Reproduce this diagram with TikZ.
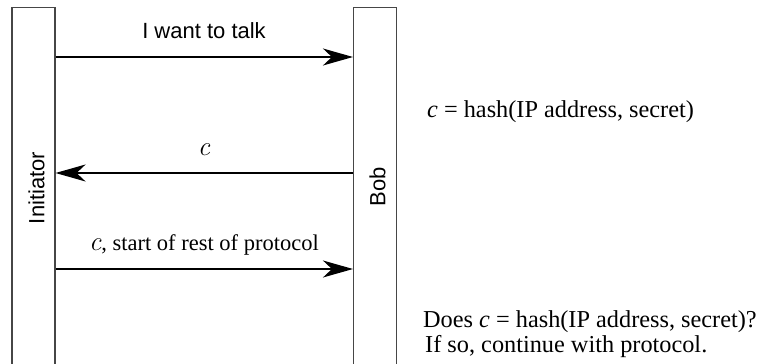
\documentclass[tikz,border=0pt]{standalone}
\usepackage{fontspec}
\setmainfont{Liberation Serif}
\setsansfont{Liberation Sans}
\newfontfamily\lmfont{Latin Modern Roman}
\usepackage{tikz}
\usetikzlibrary{arrows.meta, positioning}
\definecolor{barcolor}{RGB}{70, 70, 70}
\newcommand{\cvar}{{\fontsize{27}{30}\selectfont\lmfont\itshape c}}

\begin{document}
\begin{tikzpicture}[x=1pt, y=-1pt,
    party/.style={draw=barcolor, line width=1.1pt, minimum width=43pt, minimum height=400pt, inner sep=0pt},
    msg/.style={line width=1.2pt, -{Stealth[length=30pt, width=17pt, inset=9pt]}},
    sanslabel/.style={font=\sffamily\fontsize{22}{26}\selectfont},
    seriflabel/.style={font=\fontsize{22.5}{26}\selectfont},
    note/.style={font=\fontsize{24.3}{28}\selectfont, anchor=base west, inner sep=0pt}]
    \clip (0,0) rectangle (771,364);

    % The two parties
    \node[party, anchor=north] (init) at (33.5, 7) {};
    \node[party, anchor=north] (bob) at (375, 7) {};
    \node[sanslabel, rotate=90] (initname) at (36.5, 188) {Initiator};
    \node[sanslabel, rotate=90] (bobname) at (377.5, 187) {Bob};

    % Message heights
    \coordinate (m1) at (0, 57);
    \coordinate (m2) at (0, 173);
    \coordinate (m3) at (0, 269);

    % Messages
    \draw[msg] (init.east |- m1) -- (bob.west |- m1);
    \node[sanslabel, anchor=base] (talk) at (204, 38) {I want to talk};

    \draw[msg] (bob.west |- m2) -- (init.east |- m2);
    \node[seriflabel, anchor=base] (cookie) at (204, 155) {\cvar};

    \draw[msg] (init.east |- m3) -- (bob.west |- m3);
    \node[seriflabel, anchor=base] (rest) at (204, 250) {\cvar, start of rest of protocol};

    % Bob's side
    \node[note] (hash) at (427, 117) {\textit{c} = hash(IP address, secret)};
    \node[note] (check) at (423, 327) {Does \textit{c} = hash(IP address, secret)?};
    \node[note] (goon) at (425, 352) {If so, continue with protocol.};

\end{tikzpicture}
\end{document}
